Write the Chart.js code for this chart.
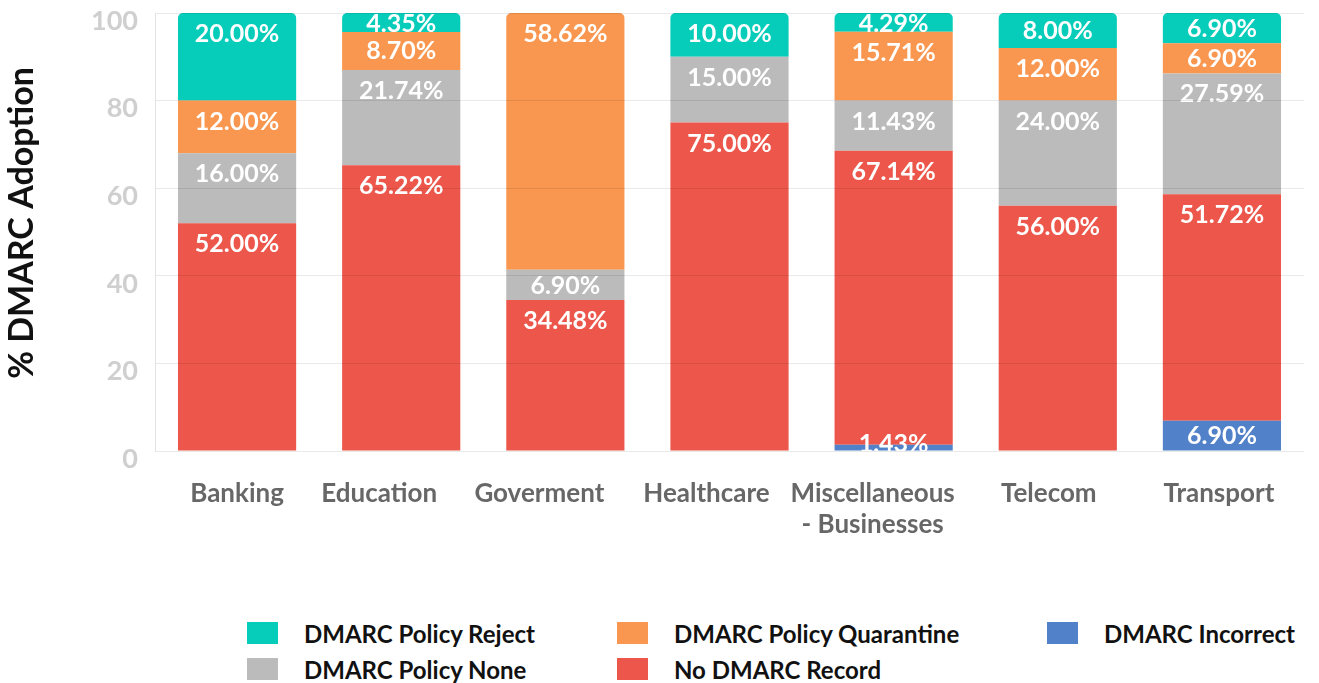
<!DOCTYPE html>
<html>
<head>
<meta charset="utf-8">
<title>DMARC Adoption by Sector</title>
<script src="https://cdn.jsdelivr.net/npm/chart.js@4.4.1/dist/chart.umd.min.js"></script>
<style>
  html, body { margin: 0; padding: 0; background: #fff; }
  #page { position: relative; width: 1319px; height: 683px; overflow: hidden; }
  #chartBox { position: absolute; left: 0; top: 0; width: 1319px; height: 560px; }
  #legend {
    position: absolute; left: 247px; top: 615px;
    display: grid; grid-template-columns: 370px 430px auto; grid-auto-rows: 36px;
    font-family: Lato, sans-serif; font-weight: bold; font-size: 24px; color: #111;
  }
  #legend .item { display: flex; align-items: center; }
  #legend .box { width: 31px; height: 22px; margin-right: 26px; }
</style>
</head>
<body>
<div id="page">
  <div id="chartBox"><canvas id="myChart"></canvas></div>
  <div id="legend"></div>
</div>
<script>
var categories = ["Banking", "Education", "Goverment", "Healthcare", ["Miscellaneous", "- Businesses"], "Telecom", "Transport"];

// stacked from the bottom up
var incorrect = [0, 0, 0, 0, 1.43, 0, 6.90];
var noRecord = [52.00, 65.22, 34.48, 75.00, 67.14, 56.00, 51.72];
var policyNone = [16.00, 21.74, 6.90, 15.00, 11.43, 24.00, 27.59];
var quarantine = [12.00, 8.70, 58.62, 0, 15.71, 12.00, 6.90];
var reject = [20.00, 4.35, 0, 10.00, 4.29, 8.00, 6.90];

var yTicks = [0, 20, 40, 60, 80, 100];

var seriesNames = ["DMARC Incorrect", "No DMARC Record", "DMARC Policy None", "DMARC Policy Quarantine", "DMARC Policy Reject"];
var seriesColors = ["#5181c8", "#ec564b", "#bbbbbb", "#f9964f", "#06ccba"];
var seriesData = [incorrect, noRecord, policyNone, quarantine, reject];

// legend reads left to right, row by row
var legendOrder = [4, 3, 0, 2, 1];

// horizontal nudge (px) of each category label from its bar centre
var labelNudge = [0, -22, -26, -23, -21, -9, -3];

Chart.defaults.font.family = "Lato, sans-serif";
Chart.defaults.font.weight = "bold";

// index of the highest non-empty segment in a column
function topDataset(index) {
  for (var d = seriesData.length - 1; d >= 0; d--) {
    if (seriesData[d][index] > 0) return d;
  }
  return -1;
}

var datasets = seriesData.map(function (values, i) {
  return {
    label: seriesNames[i],
    data: values,
    backgroundColor: seriesColors[i],
    borderWidth: 0,
    borderRadius: function (ctx) {
      if (ctx.datasetIndex === topDataset(ctx.dataIndex)) {
        return { topLeft: 5, topRight: 5, bottomLeft: 0, bottomRight: 0 };
      }
      return 0;
    },
  };
});

// white percentage text near the top of each segment
var segmentLabels = {
  id: "segmentLabels",
  afterDatasetsDraw: function (chart) {
    var ctx = chart.ctx;
    ctx.save();
    ctx.fillStyle = "#fff";
    ctx.font = "bold 25px Lato, sans-serif";
    ctx.textAlign = "center";
    ctx.textBaseline = "middle";
    chart.data.datasets.forEach(function (ds, di) {
      var meta = chart.getDatasetMeta(di);
      meta.data.forEach(function (bar, i) {
        var v = ds.data[i];
        if (!v) return;
        var h = bar.base - bar.y;
        var cy = h < 15 ? bar.base - 8 : bar.y + Math.min(18, h * 0.42) + 2;
        ctx.fillText(v.toFixed(2) + "%", bar.x, cy + 1);
      });
    });
    ctx.restore();
  },
};

// category names under the bars and the rotated value-axis title
var axisText = {
  id: "axisText",
  afterDraw: function (chart) {
    var ctx = chart.ctx;
    var xScale = chart.scales.x;
    var bottom = chart.chartArea.bottom;
    ctx.save();
    ctx.fillStyle = "#676767";
    ctx.font = "bold 26px Lato, sans-serif";
    ctx.textAlign = "center";
    ctx.textBaseline = "middle";
    categories.forEach(function (label, i) {
      var lines = Array.isArray(label) ? label : [label];
      var x = xScale.getPixelForValue(i) + labelNudge[i];
      lines.forEach(function (line, k) {
        ctx.fillText(line, x, bottom + 43 + k * 31);
      });
    });

    ctx.translate(22, 223);
    ctx.rotate(-Math.PI / 2);
    ctx.fillStyle = "#111";
    ctx.font = "bold 34px Lato, sans-serif";
    ctx.fillText("% DMARC Adoption", 0, 0);
    ctx.restore();
  },
};

var ctx = document.getElementById("myChart").getContext("2d");
var chart = new Chart(ctx, {
  type: "bar",
  data: { labels: categories, datasets: datasets },
  plugins: [segmentLabels, axisText],
  options: {
    responsive: true,
    maintainAspectRatio: false,
    animation: false,
    layout: { padding: { top: 13, right: 15, left: 0, bottom: 0 } },
    plugins: {
      legend: { display: false },
      tooltip: { enabled: false },
    },
    scales: {
      x: {
        stacked: true,
        grid: { display: false },
        border: { display: false },
        ticks: { display: false },
        afterFit: function (scale) {
          scale.height = 109;
          scale.paddingLeft = 0;
          scale.paddingRight = 0;
        },
      },
      y: {
        stacked: true,
        min: 0,
        max: 100,
        afterBuildTicks: function (scale) {
          scale.ticks = yTicks.map(function (v) { return { value: v }; });
        },
        grid: {
          color: "rgba(0,0,0,0.085)",
          drawTicks: false,
          z: 1,
        },
        border: { display: true, color: "#e3e3e3", z: 1 },
        ticks: {
          color: "#cfcfcf",
          font: { size: 27, weight: "bold" },
          padding: 17,
          labelOffset: 8,
        },
        afterFit: function (scale) {
          scale.width = 155;
          scale.paddingTop = 0;
          scale.paddingBottom = 0;
        },
      },
    },
  },
});

// legend
var legendEl = document.getElementById("legend");
legendOrder.forEach(function (i) {
  var item = document.createElement("div");
  item.className = "item";
  var box = document.createElement("span");
  box.className = "box";
  box.style.background = seriesColors[i];
  var text = document.createElement("span");
  text.textContent = seriesNames[i];
  item.appendChild(box);
  item.appendChild(text);
  legendEl.appendChild(item);
});
</script>
</body>
</html>
